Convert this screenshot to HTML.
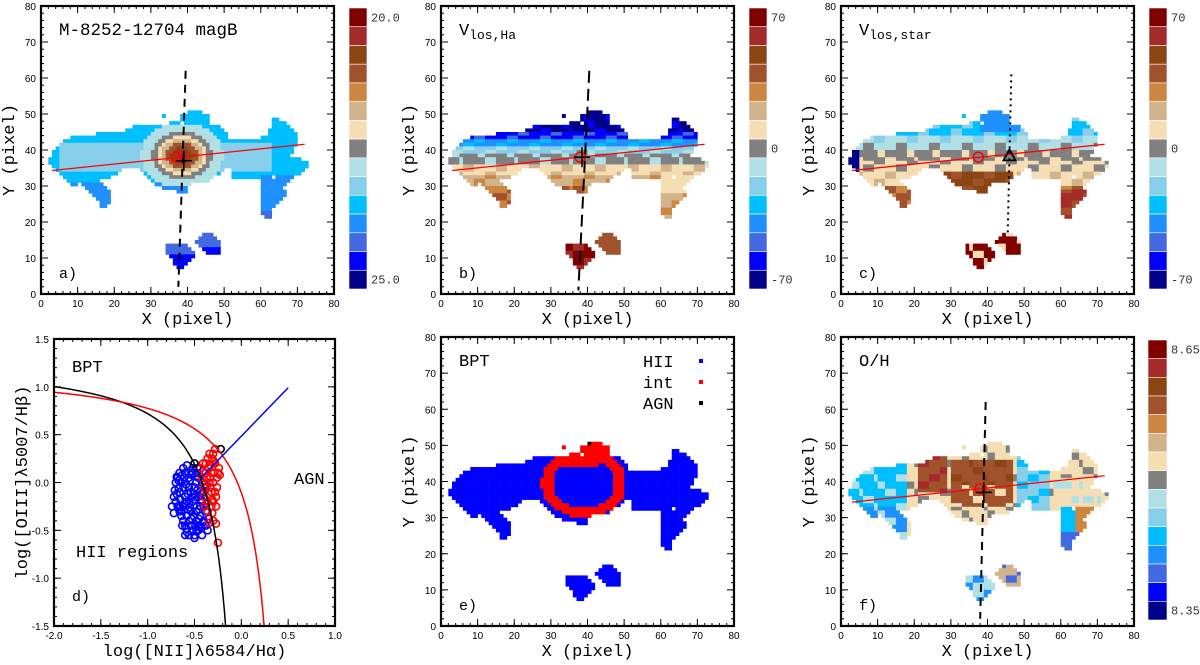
<!DOCTYPE html>
<html><head><meta charset="utf-8"><style>
html,body{margin:0;padding:0;background:#fff;}
svg{display:block;}
text{font-family:"Liberation Mono","DejaVu Sans Mono",monospace;}
.tk{font-family:"Liberation Sans",sans-serif;font-size:10px;}
</style></head><body>
<svg id="fig" width="1200" height="665" viewBox="0 0 1200 665" xmlns="http://www.w3.org/2000/svg"></svg>
<script>
// galaxy mask row spans: [y, x0, x1]
const maskRows = [[50,40,43],[49,33,33],[49,38,45],[48,38,45],[48,63,64],[47,35,37],[47,39,45],[47,63,66],[46,25,48],[46,63,67],[45,23,49],[45,62,68],[44,15,50],[44,62,69],[43,8,50],[43,60,69],[42,6,69],[41,5,69],[40,4,68],[39,3,68],[38,3,67],[37,2,70],[36,2,72],[35,3,72],[34,4,21],[34,27,49],[34,52,71],[33,5,20],[33,28,48],[33,52,70],[32,6,18],[32,29,46],[32,52,62],[32,64,68],[31,7,15],[31,30,45],[31,60,67],[30,8,9],[30,11,16],[30,31,40],[30,60,66],[29,12,17],[29,33,39],[29,60,65],[28,13,18],[28,37,39],[28,60,66],[27,14,18],[27,60,66],[26,15,18],[26,60,65],[25,16,18],[25,60,64],[24,16,17],[24,60,63],[23,60,62],[22,60,62],[21,61,62],[16,44,46],[15,43,47],[14,42,48],[13,34,39],[13,43,48],[12,34,40],[12,44,48],[11,34,41],[11,45,48],[10,35,41],[9,36,40],[8,36,39],[7,37,38]];
const cbColors = ["#800000","#a52a2a","#8b4513","#a0522d","#cd853f","#d2b48c","#f5deb3","#808080","#b0e0e6","#87ceeb","#00bfff","#1e90ff","#4169e1","#0000ff","#00008b"];
const xTicks = [0,10,20,30,40,50,60,70,80];
const yTicks = [0,10,20,30,40,50,60,70,80];
const bptXTicks = [-2.0,-1.5,-1.0,-0.5,0.0,0.5,1.0];
const bptYTicks = [-1.5,-1.0,-0.5,0.0,0.5,1.0,1.5];
const hiiX = [-0.72,-0.70,-0.68,-0.66,-0.64,-0.62,-0.60,-0.58,-0.56,-0.54,-0.52,-0.50,-0.48,-0.46,-0.44,-0.42,-0.40,-0.38,-0.36,-0.70,-0.66,-0.62,-0.58,-0.54,-0.50,-0.46,-0.42,-0.38,-0.68,-0.64,-0.60,-0.56,-0.52,-0.48,-0.44,-0.40,-0.66,-0.62,-0.58,-0.54,-0.50,-0.46,-0.42,-0.60,-0.56,-0.52,-0.48,-0.44,-0.40,-0.74,-0.72,-0.64,-0.58,-0.52,-0.50,-0.54,-0.48,-0.56,-0.62,-0.45,-0.71,-0.69,-0.67,-0.65,-0.63,-0.61,-0.59,-0.57,-0.55,-0.53,-0.51,-0.49,-0.47,-0.45,-0.43,-0.41,-0.39,-0.37,-0.69,-0.65,-0.61,-0.57,-0.53,-0.49,-0.45,-0.41,-0.67,-0.63,-0.59,-0.55,-0.51,-0.47,-0.43,-0.39,-0.35,-0.60,-0.56,-0.52,-0.48,-0.44];
const hiiY = [-0.15,0.00,-0.25,0.10,-0.30,0.15,-0.45,0.18,-0.55,0.12,-0.50,0.20,-0.40,0.05,-0.35,-0.20,-0.10,-0.30,-0.50,-0.20,-0.10,-0.05,-0.20,-0.30,-0.05,-0.15,0.00,-0.45,0.05,0.00,-0.15,-0.05,-0.20,-0.30,-0.25,-0.40,-0.30,-0.40,-0.35,-0.45,-0.55,-0.50,-0.55,0.10,0.05,0.10,0.00,-0.10,-0.25,-0.25,-0.32,-0.35,-0.52,0.15,-0.58,-0.10,0.10,-0.40,-0.25,-0.45,-0.08,-0.12,0.02,-0.18,0.08,-0.22,-0.02,-0.28,0.02,-0.38,-0.12,-0.18,-0.08,-0.28,-0.12,-0.42,-0.02,-0.22,0.06,-0.26,0.05,-0.12,0.08,-0.45,-0.38,0.12,-0.06,-0.45,-0.48,-0.26,-0.35,0.15,-0.18,-0.05,-0.38,-0.55,-0.22,-0.15,-0.50,-0.47];
const intX = [-0.44,-0.42,-0.40,-0.38,-0.36,-0.34,-0.32,-0.30,-0.28,-0.26,-0.24,-0.40,-0.36,-0.32,-0.28,-0.26,-0.38,-0.34,-0.30,-0.28,-0.36,-0.32,-0.30,-0.34,-0.30,-0.27,-0.35,-0.33,-0.29,-0.25,-0.27,-0.31,-0.37,-0.41,-0.39,-0.25,-0.37,-0.35,-0.33,-0.31,-0.29,-0.27,-0.33,-0.31,-0.23];
const intY = [0.15,0.05,-0.05,0.20,0.25,0.30,0.10,0.00,0.20,0.05,0.15,-0.15,-0.20,-0.10,-0.10,-0.05,0.10,0.00,0.30,0.35,-0.30,-0.25,-0.40,-0.42,-0.20,-0.43,0.15,-0.05,0.10,0.10,-0.25,0.25,0.05,0.20,-0.25,-0.63,-0.05,-0.12,0.18,-0.32,0.22,-0.15,0.05,-0.18,0.08];
const agnX = [-0.22,-0.5];
const agnY = [0.35,0.2];

const NS="http://www.w3.org/2000/svg";
const svg=document.getElementById('fig');
function el(tag,attrs,parent,txt){const e=document.createElementNS(NS,tag);for(const k in attrs)e.setAttribute(k,attrs[k]);if(txt!==undefined)e.textContent=txt;(parent||svg).appendChild(e);return e;}

function makeAxes(L,T,R,B,xmin,xmax,ymin,ymax){
  return {sx:v=>L+(v-xmin)/(xmax-xmin)*(R-L), sy:v=>B-(v-ymin)/(ymax-ymin)*(B-T)};
}
function frame(g,L,T,R,B,ax,xt,yt,xminor,yminor,fmt){
  for(const v of xminor){const x=ax.sx(v);el('line',{x1:x,y1:B,x2:x,y2:B-3,stroke:'#000'},g);el('line',{x1:x,y1:T,x2:x,y2:T+3,stroke:'#000'},g);}
  for(const v of yminor){const y=ax.sy(v);el('line',{x1:L,y1:y,x2:L+3,y2:y,stroke:'#000'},g);el('line',{x1:R,y1:y,x2:R-3,y2:y,stroke:'#000'},g);}
  for(const v of xt){const x=ax.sx(v);el('line',{x1:x,y1:B,x2:x,y2:B-7,stroke:'#000'},g);el('line',{x1:x,y1:T,x2:x,y2:T+7,stroke:'#000'},g);
    const t=el('text',{x:x,y:B+13,'text-anchor':'middle',class:'tk'},g,fmt?fmt(v):v);}
  for(const v of yt){const y=ax.sy(v);el('line',{x1:L,y1:y,x2:L+7,y2:y,stroke:'#000'},g);el('line',{x1:R,y1:y,x2:R-7,y2:y,stroke:'#000'},g);
    const t=el('text',{x:L-5,y:y+4,'text-anchor':'end',class:'tk'},g,fmt?fmt(v):v);}
  el('rect',{x:L,y:T,width:R-L,height:B-T,fill:'none',stroke:'#000','stroke-width':2.2},g);
}
const minor80=[];for(let v=0;v<=80;v+=2)minor80.push(v);
// block texture index for patchy appearance
function nb(x,y,m){return ((Math.floor(x/3)*7+Math.floor(y/2)*11+Math.floor(x/5)*3)%m);}

function cmapA(x,y){const d=Math.hypot((x-38)/1.25,(y-38));
  if(d<1.5)return 1;if(d<2.5)return 2;if(d<3.5)return 3;if(d<4.5)return 5;if(d<5.5)return 6;if(d<6.6)return 7;if(d<9)return 8;
  if(y<=17)return x<42?(y<11?13:12):(y<13?13:12);
  if(x>=60&&y<33)return y<23?12:11; if(y<31)return 11;
  if(y>=34&&y<=41&&x>=5&&x<=62)return 9; return 10;}
function cmapB(x,y){ if(y<=17)return x<42?(nb(x,y,3)?0:1):3;
  const d=Math.hypot((x-38)/1.3,y-38); if(d<1.5)return 7;
  if(x>=60&&y<33)return y<28?(nb(x,y,3)?5:4):6;
  if(y>=45)return nb(x,y,4)?14:13; if(y>=43)return nb(x,y,3)?13:12; if(y>=41)return nb(x,y,3)?11:10;
  if(y>=39)return nb(x,y,3)?9:8; if(y>=36)return nb(x,y,4)?7:8; if(y>=33)return nb(x,y,3)?6:5; if(y>=30)return nb(x,y,3)?5:4; return nb(x,y,2)?3:4;}
function cmapC(x,y){ if(y<=17)return nb(x,y,4)?0:6; if(x<=4&&y<=39)return 14;
  if(x>=60&&y<29)return nb(x,y,3)?1:3;
  if(y>=45&&x>=38&&x<=48)return 11; if(y>=44)return nb(x,y,3)?10:9; if(y>=42)return nb(x,y,3)?8:9;
  if(y>=40)return nb(x,y,3)?8:7; if(y>=37)return nb(x,y,4)?7:6; if(y>=34)return nb(x,y,3)?6:7;
  if(x>=27&&x<=46)return nb(x,y,3)?2:3; if(y<30)return nb(x,y,3)?3:4; return nb(x,y,3)?6:5;}
function cmapF(x,y){ if(y<=17)return x<42?(nb(x,y,3)?8:11):(nb(x,y,3)?5:12);
  if(x>=30&&x<=46&&y>=33&&y<=45)return nb(x,y,4)?3:(y>38?2:6);
  if(x>=21&&x<=28&&y>=37)return nb(x,y,3)?3:1;
  if(x>=60&&y<33)return y<26?12:(x>63?4:10);
  if(x<=17)return nb(x,y,4)?(y<33?11:10):8;
  if(x>=58&&x<=70&&y<=40)return nb(x,y,5)?6:8;
  if(x>=48&&x<=56)return nb(x,y,3)?9:10;
  return nb(x,y,4)?6:7;}
function cmapE(x,y){ if(x===40&&y===50)return '#000';
  const d=Math.hypot((x-38.5)/1.35,(y-39)/1.1);
  if(y>=44&&x>=33&&x<=47&&!(x>=43&&y<=46))return '#ff0000';
  if(d>6.2&&d<8.6&&x>=27&&x<=49&&y>=27)return '#ff0000';
  return '#0000ff';}

function heat(g,ax,fn,useIdx){const cw=ax.sx(1)-ax.sx(0);
  for(const [y,x0,x1] of maskRows){for(let x=x0;x<=x1;x++){const v=fn(x,y);
    const r=el('rect',{x:ax.sx(x),y:ax.sy(y+1),width:cw+0.3,height:cw+0.3,fill:useIdx?cbColors[v]:v},g);
    
    }}}
function colorbar(L,T,R,B,labels,name){const g=el('g',{});
  const h=(B-T)/15;cbColors.forEach((c,i)=>{const r=el('rect',{x:L,y:T+i*h,width:R-L,height:h,fill:c,stroke:'#fff','stroke-width':0.6},g);});
  for(const [txt,i] of labels){el('text',{x:R+4,y:T+i*h+h/2+4,'font-size':12,fill:'#333'},g,txt);} }
function redLine(g,ax){el('line',{x1:ax.sx(3),y1:ax.sy(34.3),x2:ax.sx(72),y2:ax.sy(41.6),stroke:'#f00','stroke-width':1.3},g);}
function marks(g,ax,cx,cy,px,py){el('circle',{cx:ax.sx(cx),cy:ax.sy(cy),r:5,fill:'none',stroke:'#f00','stroke-width':1.5},g);
  if(px!==null){el('line',{x1:ax.sx(px)-8,y1:ax.sy(py),x2:ax.sx(px)+8,y2:ax.sy(py),stroke:'#000','stroke-width':1.5},g);el('line',{x1:ax.sx(px),y1:ax.sy(py)-10,x2:ax.sx(px),y2:ax.sy(py)+10,stroke:'#000','stroke-width':1.5},g);}}
function axisTitles(L,T,R,B,xt,yt){
  const t1=el('text',{x:(L+R)/2,y:B+30,'text-anchor':'middle','font-size':17},null,xt);
  const cy=(T+B)/2;const t2=el('text',{x:0,y:0,'text-anchor':'middle','font-size':17,transform:`translate(${L-27},${cy}) rotate(-90)`},null,yt);}

function mapPanel(col,row,fn,useIdx,name,label,title,opts){
  const L=col*400+41,R=col*400+334,T=row?337:6,B=row?626:294;
  const g=el('g',{});
  const ax=makeAxes(L,T,R,B,0,80,0,80);
  heat(g,ax,fn,useIdx);
  opts&&opts(g,ax);
  frame(g,L,T,R,B,ax,xTicks,yTicks,minor80,minor80);
  if(title)title(g,L,T);
  el('text',{x:L+18,y:B-16,'font-size':15},g,label);
  axisTitles(L,T,R,B,'X  (pixel)','Y  (pixel)');
  return ax;}

// panel a
mapPanel(0,0,cmapA,true,'panel-a-magb','a)',(g,L,T)=>{el('text',{x:L+18,y:T+29,'font-size':17.5},g,'M-8252-12704  magB');},
 (g,ax)=>{el('line',{x1:ax.sx(39.5),y1:ax.sy(62),x2:ax.sx(37.5),y2:ax.sy(2),stroke:'#000','stroke-width':2,'stroke-dasharray':'8,6'},g);redLine(g,ax);marks(g,ax,37,38,39,37);});
colorbar(349,8,367,289,[['20.0',0],['25.0',14]],'colorbar-a');
// panel b
mapPanel(1,0,cmapB,true,'panel-b-vlos-ha','b)',(g,L,T)=>{const t=el('text',{x:L+18,y:T+29,'font-size':17},g,'V');el('tspan',{'font-size':13,dy:4},t,'los,Ha');},
 (g,ax)=>{el('line',{x1:ax.sx(40.5),y1:ax.sy(62),x2:ax.sx(37.5),y2:ax.sy(1),stroke:'#000','stroke-width':2,'stroke-dasharray':'12,6'},g);redLine(g,ax);marks(g,ax,38,38,38.5,38);});
colorbar(749,8,767,289,[['70',0],['0',7],['-70',14]],'colorbar-b');
// panel c
mapPanel(2,0,cmapC,true,'panel-c-vlos-star','c)',(g,L,T)=>{const t=el('text',{x:L+18,y:T+29,'font-size':17},g,'V');el('tspan',{'font-size':13,dy:4},t,'los,star');},
 (g,ax)=>{el('line',{x1:ax.sx(46.5),y1:ax.sy(61),x2:ax.sx(45.5),y2:ax.sy(16),stroke:'#000','stroke-width':2,'stroke-dasharray':'2,4'},g);redLine(g,ax);marks(g,ax,37.5,38,null,null);
  const tx=ax.sx(46),ty=ax.sy(38.5);el('path',{d:`M${tx-6},${ty+5}L${tx+6},${ty+5}L${tx},${ty-6}Z`,fill:'none',stroke:'#000','stroke-width':1.8},g);});
colorbar(1149,8,1167,289,[['70',0],['0',7],['-70',14]],'colorbar-c');
// panel e
mapPanel(1,1,cmapE,false,'panel-e-bpt-map','e)',(g,L,T)=>{el('text',{x:L+18,y:T+29,'font-size':17},g,'BPT');
  [['HII','#0000ff'],['int','#ff0000'],['AGN','#000']].forEach(([s,c],i)=>{const lg=el('g',{},g);
  el('text',{x:L+202,y:T+30+i*21,'font-size':17},lg,s);el('rect',{x:L+258,y:T+22+i*21,width:4,height:4,fill:c},lg);});},null);
// panel f
mapPanel(2,1,cmapF,true,'panel-f-oh','f)',(g,L,T)=>{el('text',{x:L+18,y:T+29,'font-size':17},g,'O/H');},
 (g,ax)=>{el('line',{x1:ax.sx(39.5),y1:ax.sy(62),x2:ax.sx(38),y2:ax.sy(2),stroke:'#000','stroke-width':2,'stroke-dasharray':'8,6'},g);redLine(g,ax);marks(g,ax,38,38,39,37);});
colorbar(1148,340,1167,620,[['8.65',0],['8.35',14]],'colorbar-f');

// panel d BPT diagram
(function(){const L=54,R=335,T=339,B=626;const g=el('g',{});
  const ax=makeAxes(L,T,R,B,-2,1,-1.5,1.5);
  const cp=el('clipPath',{id:'cpd'},g);el('rect',{x:L,y:T,width:R-L,height:B-T},cp);
  const pts=(xs,ys,c,nm)=>xs.forEach((x,i)=>{const p=el('circle',{cx:ax.sx(x),cy:ax.sy(ys[i]),r:3.5,fill:'none',stroke:c,'stroke-width':1.6},g);});
  pts(hiiX,hiiY,'#0000ff','hii-point');pts(intX,intY,'#ff0000','int-point');pts(agnX,agnY,'#000','agn-point');
  const curve=(f,xmax,c)=>{let d='';for(let x=-2;x<=xmax;x+=0.005){const y=f(x);if(y<-1.6)break;d+=(d?'L':'M')+ax.sx(x).toFixed(1)+','+ax.sy(y).toFixed(1);}el('path',{d,fill:'none',stroke:c,'stroke-width':1.5,'clip-path':'url(#cpd)'},g);};
  curve(x=>0.61/(x-0.05)+1.3,0.04,'#000');curve(x=>0.61/(x-0.47)+1.19,0.46,'#f00');
  el('line',{x1:ax.sx(-0.43),y1:ax.sy(0.05),x2:ax.sx(0.5),y2:ax.sy(0.99),stroke:'#0000ff','stroke-width':1.5},g);
  const mx=[],my=[];for(let v=-2;v<=1.001;v+=0.1)mx.push(v);for(let v=-1.5;v<=1.501;v+=0.1)my.push(v);
  frame(g,L,T,R,B,ax,bptXTicks,bptYTicks,mx,my,v=>v.toFixed(1));
  el('text',{x:L+18,y:T+33,'font-size':17},g,'BPT');el('text',{x:L+240,y:T+145,'font-size':17},g,'AGN');
  el('text',{x:L+22,y:T+218,'font-size':17},g,'HII regions');el('text',{x:L+18,y:B-25,'font-size':15},g,'d)');
  axisTitles(L,T,R,B,'log([NII]λ6584/Hα)','log([OIII]λ5007/Hβ)');
})();
</script>
</body></html>
